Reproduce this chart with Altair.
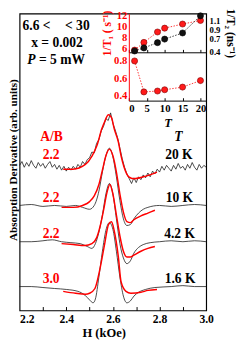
import altair as alt
import pandas as pd

FONT = "Liberation Serif"
W, HGT = 193, 307

# ---------------- main panel: measured spectra (black) ----------------
H20 = [2.20, 2.21, 2.22, 2.23, 2.24, 2.25, 2.26, 2.27, 2.28, 2.29,
       2.30, 2.31, 2.32, 2.33, 2.34, 2.35, 2.36, 2.37, 2.38, 2.39,
       2.40, 2.41, 2.42, 2.43, 2.44, 2.45, 2.46, 2.47, 2.48, 2.49,
       2.50, 2.51, 2.52, 2.53, 2.54, 2.55, 2.56, 2.57, 2.58, 2.59,
       2.60, 2.61, 2.62, 2.63, 2.64, 2.65, 2.66, 2.67, 2.68, 2.69,
       2.70, 2.71, 2.72, 2.73, 2.74, 2.75, 2.76, 2.77, 2.78, 2.79,
       2.80, 2.81, 2.82, 2.83, 2.84, 2.85, 2.86, 2.87, 2.88, 2.89,
       2.90, 2.91, 2.92, 2.93, 2.94, 2.95, 2.96, 2.97, 2.98, 2.99,
       3.00]
V20 = [152, 156, 150, 155, 151, 157, 152, 149, 155, 151,
       154, 149, 153, 156, 150, 153, 148, 152, 147, 151,
       146, 150, 147, 151, 148, 153, 150, 156, 153, 158,
       160, 166, 165, 175, 179, 188, 193, 201, 199, 207,
       196, 189, 181, 170, 159, 150, 143, 138, 133, 139,
       134, 140, 137, 142, 139, 144, 140, 146, 143, 148,
       145, 151, 147, 152, 149, 146, 152, 148, 154, 149,
       151, 147, 153, 149, 155, 150, 147, 153, 149, 152,
       150]

H10 = [2.20, 2.25, 2.30, 2.35, 2.40, 2.44, 2.47, 2.50, 2.52, 2.54, 2.555, 2.57, 2.585, 2.60,
       2.615, 2.63, 2.645, 2.66, 2.675, 2.69, 2.71, 2.73, 2.75, 2.80, 2.85, 2.90, 2.95, 3.00]
V10 = [110, 111, 109, 110, 109, 110, 108, 106, 110, 125, 145, 162, 170, 161,
       140, 115, 96, 89, 90, 96, 102, 106, 108, 110, 109, 110, 111, 110]

H4 = [2.20, 2.25, 2.30, 2.34, 2.38, 2.42, 2.46, 2.49, 2.51, 2.525, 2.54, 2.555, 2.57, 2.585, 2.60,
      2.615, 2.63, 2.645, 2.66, 2.675, 2.69, 2.71, 2.73, 2.76, 2.80, 2.85, 2.90, 2.95, 3.00]
V4 = [72, 72, 73, 74, 72, 71, 70, 67, 65, 70, 82, 100, 122, 133, 122,
      96, 70, 55, 49, 52, 60, 66, 69, 71, 72, 73, 72, 73, 72]

H1 = [2.20, 2.25, 2.30, 2.35, 2.40, 2.45, 2.48, 2.50, 2.515, 2.525, 2.54, 2.555, 2.57, 2.585,
      2.60, 2.615, 2.63, 2.645, 2.66, 2.675, 2.69, 2.71, 2.74, 2.78, 2.85, 2.90, 2.95, 3.00]
V1 = [25, 25, 24, 23, 22, 20, 16, 11, 8, 12, 35, 62, 84, 92,
      85, 62, 35, 15, 8, 10, 15, 19, 22, 24, 25, 26, 25, 25]

# ---------------- fits (red) ----------------
R20_H = [2.387, 2.428, 2.482, 2.511, 2.532, 2.552, 2.565, 2.581, 2.594, 2.606, 2.623, 2.635,
         2.648, 2.668, 2.689, 2.731, 2.789]
R20_V = [148, 148, 153, 162, 173, 190, 198, 205, 202, 190, 177, 162, 150, 140, 138, 140, 145]
R10_H = [2.38, 2.43, 2.47, 2.50, 2.52, 2.54, 2.555, 2.57, 2.585, 2.60, 2.615, 2.63, 2.645,
         2.66, 2.675, 2.69, 2.72, 2.75, 2.78]
R10_V = [108, 108, 110, 114, 120, 132, 147, 162, 169, 162, 145, 122, 103, 93, 92, 95, 99, 102, 105]
R4_H = [2.38, 2.43, 2.48, 2.51, 2.53, 2.545, 2.56, 2.575, 2.587, 2.60, 2.615, 2.63, 2.645,
        2.66, 2.675, 2.69, 2.72, 2.75, 2.78]
R4_V = [70, 69, 68, 70, 76, 88, 105, 124, 132, 122, 100, 78, 62, 56, 56, 58, 62, 65, 67]
R1_H = [2.387, 2.44, 2.482, 2.50, 2.523, 2.544, 2.565, 2.581, 2.594, 2.606, 2.623, 2.635,
        2.656, 2.677, 2.72, 2.75, 2.789]
R1_V = [20, 18, 17, 18, 23, 43, 70, 90, 93, 83, 57, 30, 20, 18, 19, 21, 22]

# ---------------- labels ----------------
RED_LABELS = ["A/B", "2.2", "2.2", "2.2", "3.0"]
RED_LABEL_H = [2.337, 2.335, 2.335, 2.335, 2.335]
RED_LABEL_V = [182, 163, 118, 80, 33]
TEMP_LABELS = ["20 K", "10 K", "4.2 K", "1.6 K"]
TEMP_LABEL_H = [2.883, 2.885, 2.886, 2.888]
TEMP_LABEL_V = [163, 118, 80, 33]
NOTE_TEXT = ["6.6 <", "< 30", "x = 0.002", "= 5 mW"]
NOTE_H = [2.2124, 2.3948, 2.2497, 2.2829]
NOTE_V = [298, 298, 280, 262]
ITAL_TEXT = ["P", "T"]
ITAL_H = [2.233, 2.863]
ITAL_V = [262, 182]

# ---------------- inset ----------------
T = [1.6, 4.2, 8, 10, 15, 20]
INV_T1 = [5.7, 7.1, 9.0, 9.7, 10.45, 11.1]
INV_T2 = [0.41, 0.48, 0.60, 0.68, 0.82, 1.21]
LOWER = [0.80, 0.445, 0.455, 0.47, 0.50, 0.575]


def xs():
    return alt.Scale(domain=[2.2, 3.0], range=[0, W], nice=False, zero=False)


def ys():
    return alt.Scale(domain=[0, 311], range=[HGT, 0], nice=False, zero=False)


def txs():
    return alt.Scale(domain=[0, 21.6], range=[113, W], nice=False, zero=False)


def frame(h, v, name):
    return pd.DataFrame({"H": h, "v": v, "curve": name})


noisy = frame(H20, V20, "20 K")
smooth = pd.concat([frame(H10, V10, "10 K"), frame(H4, V4, "4.2 K"), frame(H1, V1, "1.6 K")])
fits = pd.concat([frame(R20_H, R20_V, "20 K"), frame(R10_H, R10_V, "10 K"),
                  frame(R4_H, R4_V, "4.2 K"), frame(R1_H, R1_V, "1.6 K")])

main_x_axis = alt.Axis(
    orient="bottom", values=[2.2, 2.4, 2.6, 2.8, 3.0], format=".1f", ticks=False, domain=False,
    labelFontSize=12, labelPadding=4, labelColor="black", labelOverlap=False,
    labelAlign={"condition": {"test": "datum.value < 2.25", "value": "left"}, "value": "center"},
    title="H (kOe)", titleFontSize=13, titleX=87, titleY=17, titleBaseline="top",
)
main_y_axis = alt.Axis(
    orient="left", labels=False, ticks=False, domain=False,
    title="Absorption Derivative (arb. units)", titleFontSize=11.5,
    titleX=-6.5, titleY=151, titleBaseline="middle",
)

l_noisy = alt.Chart(noisy).mark_line(color="#1a1a1a", strokeWidth=0.8).encode(
    x=alt.X("H:Q", scale=xs(), axis=main_x_axis),
    y=alt.Y("v:Q", scale=ys(), axis=main_y_axis),
)
l_smooth = alt.Chart(smooth).mark_line(color="#1a1a1a", strokeWidth=0.8, interpolate="monotone").encode(
    x=alt.X("H:Q", scale=xs(), axis=None),
    y=alt.Y("v:Q", scale=ys(), axis=None),
    detail="curve:N",
)
l_fits = alt.Chart(fits).mark_line(color="#ff0000", strokeWidth=1.5, interpolate="monotone").encode(
    x=alt.X("H:Q", scale=xs(), axis=None),
    y=alt.Y("v:Q", scale=ys(), axis=None),
    detail="curve:N",
)
l_ticks = alt.Chart(pd.DataFrame({"H": [2.3, 2.4, 2.5, 2.6, 2.7, 2.8, 2.9]})).mark_point(opacity=0).encode(
    x=alt.X("H:Q", scale=xs(), axis=alt.Axis(
        orient="top", offset=-HGT, values=[2.3, 2.4, 2.5, 2.6, 2.7, 2.8, 2.9],
        labels=False, domain=False, tickSize=4, tickColor="black", tickWidth=1, title=None)),
)

red_df = pd.DataFrame({"H": RED_LABEL_H, "v": RED_LABEL_V, "label": RED_LABELS})
l_red_txt = alt.Chart(red_df).mark_text(font=FONT, fontWeight="bold", fontSize=14, color="#ff0000",
                                        align="center", baseline="middle").encode(
    x=alt.X("H:Q", scale=xs(), axis=None), y=alt.Y("v:Q", scale=ys(), axis=None), text="label:N")

tmp_df = pd.DataFrame({"H": TEMP_LABEL_H, "v": TEMP_LABEL_V, "label": TEMP_LABELS})
l_tmp_txt = alt.Chart(tmp_df).mark_text(font=FONT, fontWeight="bold", fontSize=14, color="black",
                                        align="center", baseline="middle").encode(
    x=alt.X("H:Q", scale=xs(), axis=None), y=alt.Y("v:Q", scale=ys(), axis=None), text="label:N")

note_df = pd.DataFrame({"H": NOTE_H, "v": NOTE_V, "label": NOTE_TEXT})
l_note = alt.Chart(note_df).mark_text(font=FONT, fontWeight="bold", fontSize=14, color="black",
                                      align="left", baseline="middle").encode(
    x=alt.X("H:Q", scale=xs(), axis=None), y=alt.Y("v:Q", scale=ys(), axis=None), text="label:N")

ital_df = pd.DataFrame({"H": ITAL_H, "v": ITAL_V, "label": ITAL_TEXT})
l_ital = alt.Chart(ital_df).mark_text(font=FONT, fontWeight="bold", fontStyle="italic", fontSize=14,
                                      color="black", align="left", baseline="middle").encode(
    x=alt.X("H:Q", scale=xs(), axis=None), y=alt.Y("v:Q", scale=ys(), axis=None), text="label:N")

inset = pd.DataFrame({"T": T, "r1": INV_T1, "b2": INV_T2, "low": LOWER})

red_pt = alt.OverlayMarkDef(filled=True, fill="#ff1a1a", stroke="#7a0000", strokeWidth=0.6, size=40, opacity=1)
blk_pt = alt.OverlayMarkDef(filled=True, fill="#111111", stroke="#000000", strokeWidth=0.6, size=40, opacity=1)

# inset geometry (pixels inside the main view): upper panel 0-40, lower panel 40-90
l_up_red = alt.Chart(inset).mark_line(color="#ff3333", strokeDash=[1.5, 1.5], strokeWidth=1, point=red_pt).encode(
    x=alt.X("T:Q", scale=txs(), axis=alt.Axis(
        orient="top", offset=-40, values=[0, 5, 10, 15, 20], labels=False, tickSize=3,
        tickColor="black", domainColor="black", title=None)),
    y=alt.Y("r1:Q", scale=alt.Scale(domain=[5.3, 12.35], range=[40, 0], nice=False, zero=False),
            axis=alt.Axis(orient="left", offset=-113, values=[6, 8, 10, 12], ticks=False,
                          domainColor="#ff0000", labelColor="#ff0000", labelFontSize=11, labelPadding=2,
                          labelOverlap=False,
                          title="1/T\u2081 (  s\u207b\u00b9)", titleColor="#ff0000", titleFontSize=12,
                          titlePadding=3)),
)
l_up_blk = alt.Chart(inset).mark_line(color="#333333", strokeDash=[1.5, 1.5], strokeWidth=1, point=blk_pt).encode(
    x=alt.X("T:Q", scale=txs(), axis=alt.Axis(
        orient="top", offset=-90, values=[0, 5, 10, 15, 20], labels=False, tickSize=3,
        tickColor="black", domain=False, title=None)),
    y=alt.Y("b2:Q", scale=alt.Scale(domain=[0.38, 1.26], range=[40, 0], nice=False, zero=False),
            axis=alt.Axis(orient="right", values=[0.4, 0.7, 0.9, 1.1], format=".1f", ticks=False,
                          domain=False, labelColor="black", labelFontSize=9, labelPadding=3,
                          labelOverlap=False, labelBound=False,
                          title="1/T\u2082 (ns\u207b\u00b9)", titleFontSize=12, titlePadding=4)),
)
l_low = alt.Chart(inset).mark_line(color="#ff3333", strokeDash=[1.5, 1.5], strokeWidth=1, point=red_pt).encode(
    x=alt.X("T:Q", scale=txs(), axis=alt.Axis(
        orient="bottom", offset=-(HGT - 90), values=[0, 5, 10, 15, 20], ticks=False, domainColor="black",
        labelFontSize=11, labelPadding=2, labelColor="black", labelOverlap=False,
        title="T", titleFontStyle="italic", titleFontSize=13, titlePadding=4)),
    y=alt.Y("low:Q", scale=alt.Scale(domain=[0.345, 0.899], range=[90, 40], nice=False, zero=False),
            axis=alt.Axis(orient="left", offset=-113, values=[0.4, 0.6, 0.8], format=".1f", ticks=False,
                          domainColor="#ff0000", labelColor="#ff0000", labelFontSize=11, labelPadding=2,
                          labelOverlap=False, title=None)),
)

chart = alt.layer(
    l_noisy, l_smooth, l_fits, l_ticks, l_red_txt, l_tmp_txt, l_note, l_ital,
    l_up_red, l_up_blk, l_low,
).resolve_scale(x="independent", y="independent").properties(
    width=W, height=HGT,
    autosize=alt.AutoSizeParams(type="none"),
    padding={"left": 12, "top": 0, "right": 36, "bottom": 32},
    background="white",
).configure_view(stroke="black", strokeWidth=1.2).configure_axis(
    labelFont=FONT, titleFont=FONT, labelFontWeight="bold", titleFontWeight="bold", grid=False,
    titleColor="black",
)

chart.save("out.html", embed_options={"renderer": "svg", "actions": False})
